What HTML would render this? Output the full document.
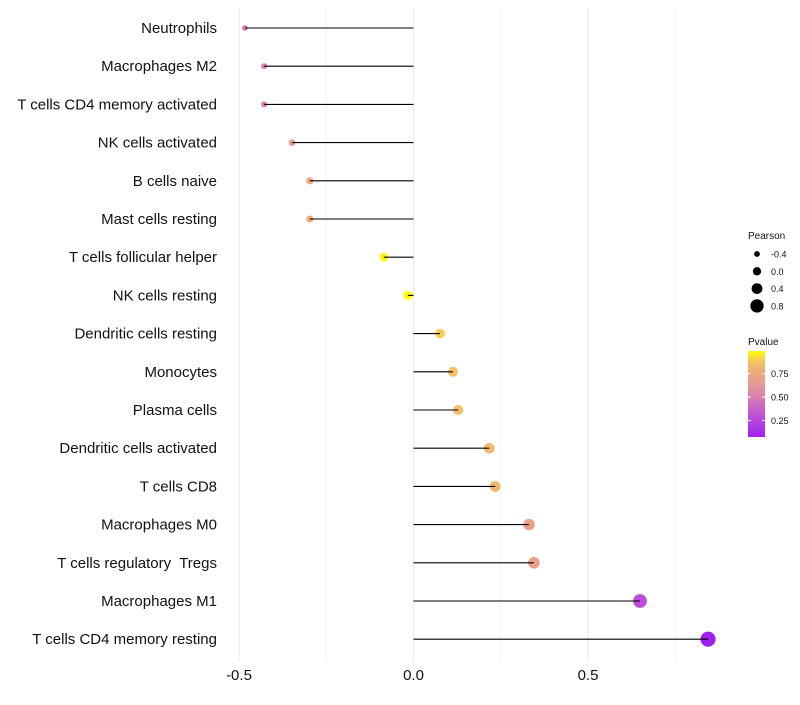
<!DOCTYPE html>
<html><head><meta charset="utf-8"><style>
body{margin:0;background:#fff;font-family:"Liberation Sans",sans-serif}
text{white-space:pre}
</style></head><body>
<svg id="chart" width="800" height="700" xmlns="http://www.w3.org/2000/svg" font-family="Liberation Sans, sans-serif"></svg>
<script>
const categories=["Neutrophils","Macrophages M2","T cells CD4 memory activated","NK cells activated","B cells naive","Mast cells resting","T cells follicular helper","NK cells resting","Dendritic cells resting","Monocytes","Plasma cells","Dendritic cells activated","T cells CD8","Macrophages M0","T cells regulatory  Tregs","Macrophages M1","T cells CD4 memory resting"];
const pearson=[-0.483,-0.428,-0.428,-0.348,-0.297,-0.297,-0.085,-0.016,0.076,0.113,0.128,0.217,0.234,0.331,0.345,0.649,0.844];
const pvalue=[0.5,0.52,0.52,0.66,0.78,0.78,0.97,0.99,0.9,0.87,0.86,0.84,0.83,0.7,0.68,0.28,0.08];
const xTicks=[-0.5,0,0.5];
const xTickLabels=["-0.5","0.0","0.5"];
const sizeLegend=[-0.4,0,0.4,0.8];
const pTicks=[0.25,0.5,0.75];
const svg=document.getElementById('chart');const NS="http://www.w3.org/2000/svg";
function mk(t,a,p){const e=document.createElementNS(NS,t);for(const k in a)e.setAttribute(k,a[k]);(p||svg).appendChild(e);return e;}
const x=v=>413.5+v*349;
const y=i=>28+i*38.2;
const r=v=>Math.max(1.5,4.6+3.5*v);
const stops=[[0.08,[160,32,240]],[0.3,[190,80,215]],[0.5,[215,125,175]],[0.65,[232,155,145]],[0.78,[240,170,120]],[0.88,[243,195,100]],[0.99,[255,255,0]]];
function col(p){let tt=Math.max(0.08,Math.min(0.99,p));for(let i=1;i<stops.length;i++){if(tt<=stops[i][0]){const a=stops[i-1],b=stops[i];const f=(tt-a[0])/(b[0]-a[0]);const c=a[1].map((v,j)=>Math.round(v+(b[1][j]-v)*f));return `rgb(${c})`;}}return 'rgb(255,255,0)';}
[-0.25,0.25,0.75].forEach(v=>{const g=mk('line',{x1:x(v),x2:x(v),y1:8,y2:662,stroke:'#f4f4f4','stroke-width':1});});
xTicks.forEach((v,i)=>{const g=mk('line',{x1:x(v),x2:x(v),y1:8,y2:662,stroke:'#ebebeb','stroke-width':1});
const t=mk('text',{x:x(v),y:680,'text-anchor':'middle','font-size':15,fill:'#111'});t.textContent=xTickLabels[i];});
categories.forEach((c,i)=>{
const t=mk('text',{x:217,y:y(i)+5,'text-anchor':'end','font-size':15,fill:'#111'});t.textContent=c;
const d=mk('circle',{cx:x(pearson[i]),cy:y(i),r:r(pearson[i]),fill:col(pvalue[i])});
const l=mk('line',{x1:x(0),x2:x(pearson[i]),y1:y(i),y2:y(i),stroke:'#000','stroke-width':1.1});
});
const lt=mk('text',{x:748,y:239,'font-size':10,fill:'#111'});lt.textContent='Pearson';
sizeLegend.forEach((v,i)=>{const cy=254+i*17.3;const c=mk('circle',{cx:757,cy:cy,r:r(v)*0.9,fill:'#000'});
const t=mk('text',{x:771,y:cy+3.5,'font-size':9,fill:'#111'});t.textContent=v===0?'0.0':String(v);});
const ct=mk('text',{x:748,y:345,'font-size':10,fill:'#111'});ct.textContent='Pvalue';
const defs=mk('defs',{});const lg=mk('linearGradient',{id:'pg',x1:0,y1:1,x2:0,y2:0},defs);
for(let k=0;k<=20;k++){const p=0.08+k/20*(0.99-0.08);mk('stop',{offset:k/20,'stop-color':col(p)},lg);}
const bar=mk('rect',{x:748,y:351,width:17,height:86,fill:'url(#pg)'});
const py=p=>351+(0.99-p)*94;
pTicks.forEach(p=>{mk('line',{x1:748,x2:751,y1:py(p),y2:py(p),stroke:'#fff'});mk('line',{x1:762,x2:765,y1:py(p),y2:py(p),stroke:'#fff'});
const t=mk('text',{x:771,y:py(p)+3.5,'font-size':9,fill:'#111'});t.textContent=p.toFixed(2);});
</script>
</body></html>
